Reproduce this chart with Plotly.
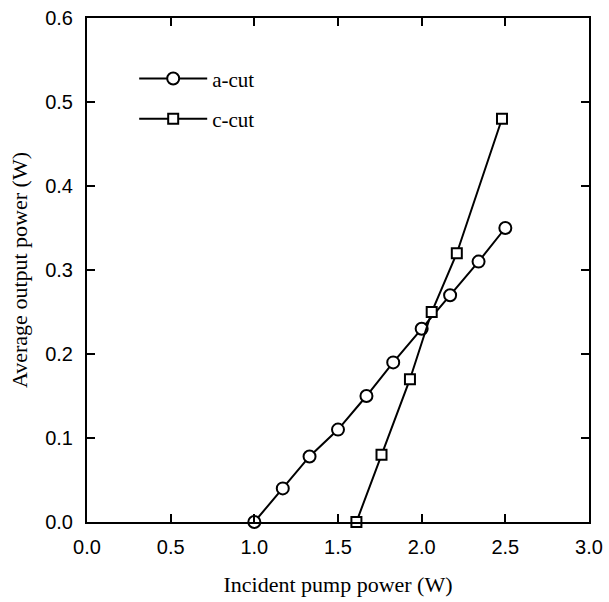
import plotly.graph_objects as go

a_cut_x = [1.0, 1.17, 1.33, 1.5, 1.67, 1.83, 2.0, 2.17, 2.34, 2.5]
a_cut_y = [0.0, 0.04, 0.078, 0.11, 0.15, 0.19, 0.23, 0.27, 0.31, 0.35]
c_cut_x = [1.61, 1.76, 1.93, 2.06, 2.21, 2.48]
c_cut_y = [0.0, 0.08, 0.17, 0.25, 0.32, 0.48]

x_ticks = [0.0, 0.5, 1.0, 1.5, 2.0, 2.5, 3.0]
y_ticks = [0.0, 0.1, 0.2, 0.3, 0.4, 0.5, 0.6]

fig = go.Figure()
fig.add_trace(go.Scatter(
    x=a_cut_x, y=a_cut_y, name="a-cut", mode="lines+markers", legendgroup="a",
    line=dict(color="black", width=2),
    marker=dict(symbol="circle", size=12, color="white", line=dict(color="black", width=2)),
    cliponaxis=False,
))
fig.add_trace(go.Scatter(
    x=c_cut_x, y=c_cut_y, name="c-cut", mode="lines+markers", legendgroup="c",
    line=dict(color="black", width=2),
    marker=dict(symbol="square", size=10, color="white", line=dict(color="black", width=2)),
    cliponaxis=False,
))

axis_common = dict(
    showgrid=False, zeroline=False, showline=True, linecolor="black", linewidth=2,
    ticks="inside", ticklen=8, tickwidth=2, tickcolor="black", mirror="ticks",
    tickfont=dict(family="Liberation Sans, Arial", size=20, color="black"),
)
fig.update_xaxes(range=[0, 3], tickvals=x_ticks, ticktext=[f"{v:.1f}" for v in x_ticks],
                 ticklabelstandoff=6,
                 title=dict(text="Incident pump power (W)", standoff=20,
                            font=dict(family="Liberation Serif, Times New Roman", size=22, color="black")),
                 **axis_common)
fig.update_yaxes(range=[0, 0.6], tickvals=y_ticks, ticktext=[f"{v:.1f}" for v in y_ticks],
                 ticklabelstandoff=8,
                 title=dict(text="Average output power (W)", standoff=11,
                            font=dict(family="Liberation Serif, Times New Roman", size=22, color="black")),
                 **axis_common)

fig.update_layout(
    width=609, height=602,
    margin=dict(l=87, r=20, t=18, b=80, autoexpand=False),
    plot_bgcolor="white", paper_bgcolor="white",
    legend=dict(x=0.094, y=0.92, xanchor="left", yanchor="top", bgcolor="rgba(0,0,0,0)",
                font=dict(family="Liberation Serif, Times New Roman", size=21, color="black"),
                itemwidth=68, tracegroupgap=10),
    showlegend=True,
)

fig.write_html("out.html", config={"displayModeBar": False},
               post_script="document.body.style.margin='0';document.body.style.overflow='hidden';")
